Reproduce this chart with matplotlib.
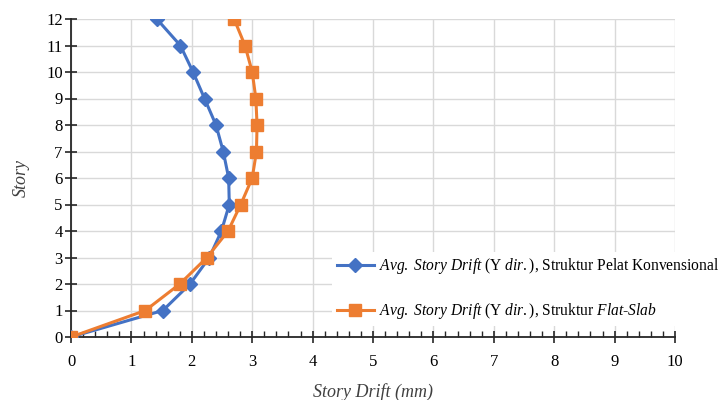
import numpy as np
import matplotlib.pyplot as plt
from matplotlib.ticker import MultipleLocator

plt.rcParams['font.family'] = ['Liberation Serif', 'DejaVu Serif']
plt.rcParams['mathtext.fontset'] = 'custom'
plt.rcParams['mathtext.rm'] = 'Liberation Serif'
plt.rcParams['mathtext.it'] = 'Liberation Serif:italic'

stories = [0, 1, 2, 3, 4, 5, 6, 7, 8, 9, 10, 11, 12]
drift_konv = [0, 1.52, 1.97, 2.29, 2.49, 2.62, 2.61, 2.52, 2.40, 2.21, 2.02, 1.81, 1.42]
drift_flat = [0, 1.23, 1.80, 2.25, 2.60, 2.81, 3.00, 3.07, 3.08, 3.06, 3.00, 2.88, 2.70]

label_konv = r"$\mathit{Avg.}$ $\mathit{Story}$ $\mathit{Drift}$ (Y $\mathit{dir.}$), Struktur Pelat Konvensional"
label_flat = r"$\mathit{Avg.}$ $\mathit{Story}$ $\mathit{Drift}$ (Y $\mathit{dir.}$), Struktur $\mathit{Flat}$-$\mathit{Slab}$"

fig = plt.figure(figsize=(7.25, 4.0), dpi=100)
ax = fig.add_axes([0.098, 0.1575, 0.833, 0.795])

ax.plot(drift_konv, stories, color='#4472C4', lw=2.2, marker='D', ms=7,
        label=label_konv, zorder=3)
ax.plot(drift_flat, stories, color='#ED7D31', lw=2.2, marker='s', ms=8,
        label=label_flat, zorder=3)

ax.set_xlim(0, 10)
ax.set_ylim(0, 12)
ax.xaxis.set_major_locator(MultipleLocator(1))
ax.xaxis.set_minor_locator(MultipleLocator(0.2))
ax.yaxis.set_major_locator(MultipleLocator(1))
ax.grid(True, which='major', color='#d9d9d9', lw=1.0, zorder=0)
ax.set_axisbelow(True)

for s in ['top', 'right']:
    ax.spines[s].set_visible(False)
for s in ['left', 'bottom']:
    ax.spines[s].set_color('#262626')
    ax.spines[s].set_linewidth(1.3)

ax.tick_params(which='major', direction='inout', length=8, width=1.2,
               color='#262626', labelsize=12, pad=2)
ax.tick_params(axis='x', which='major', pad=8)
ax.tick_params(which='minor', direction='in', length=4, width=1.0, color='#262626')

ax.set_xlabel('Story Drift (mm)', fontsize=13, style='italic', color='#404040', labelpad=10)
ax.set_ylabel('Story', fontsize=13, style='italic', color='#404040', labelpad=12)

leg = fig.legend(loc='upper left', bbox_to_anchor=(0.447, 0.39), fontsize=11.2,
                 frameon=True, edgecolor='none', facecolor='white', framealpha=1,
                 labelspacing=1.6, handlelength=2.4, handletextpad=0.3,
                 borderpad=0.3)
leg.set_zorder(5)

fig.savefig('out.png', dpi=100)
